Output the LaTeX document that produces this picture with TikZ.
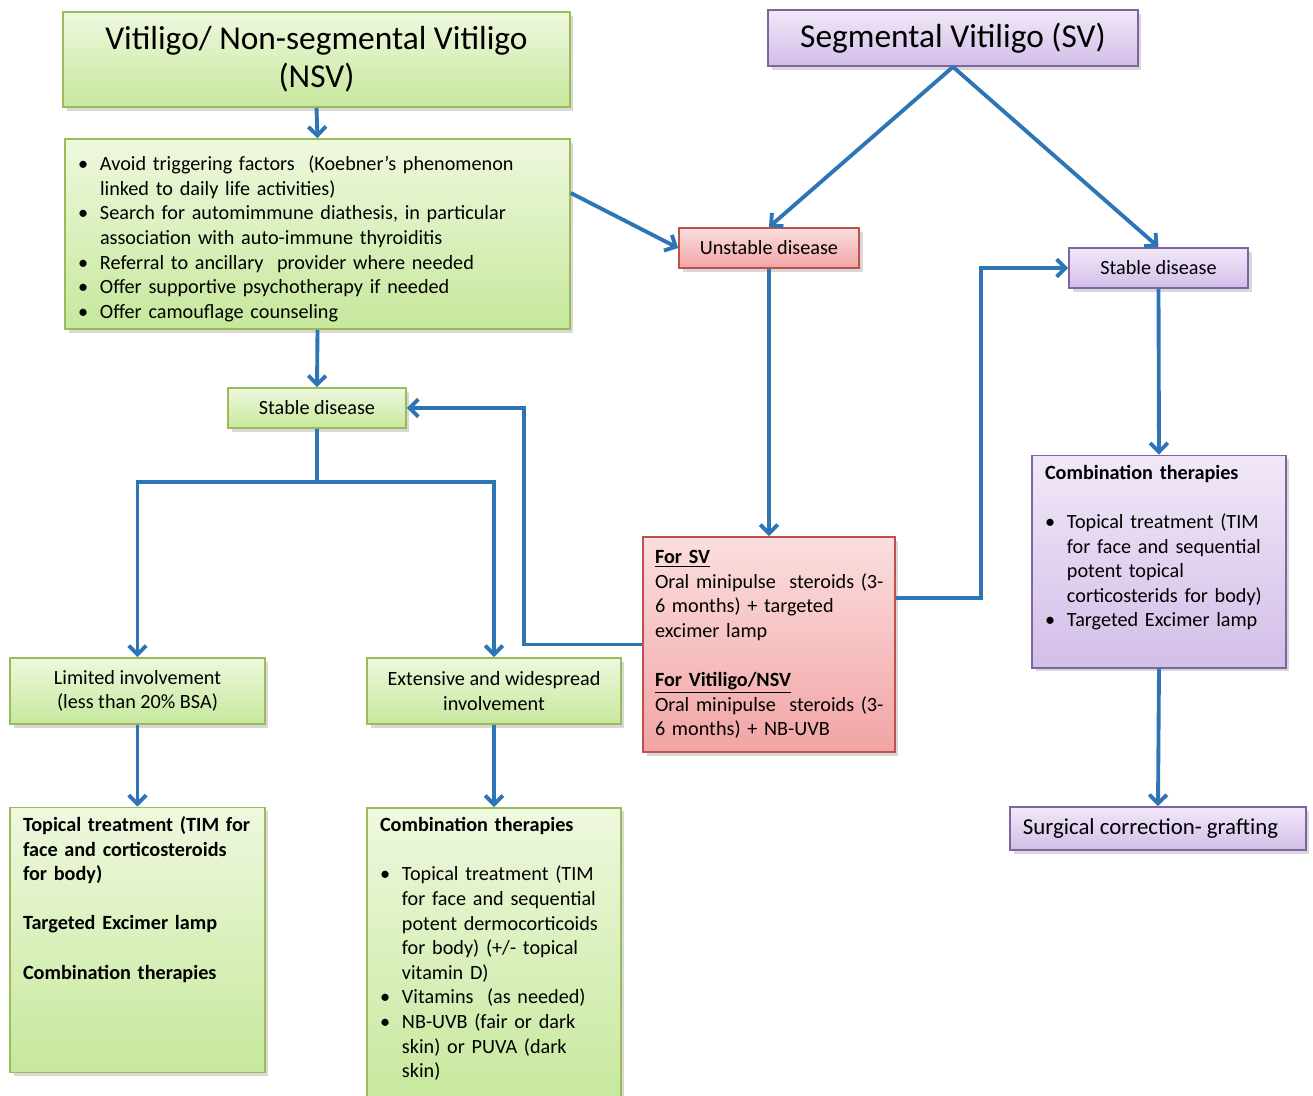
\documentclass[tikz,border=0pt]{standalone}
\usepackage{fontspec}
\setmainfont{Carlito}
\usepackage{tikz}
\usetikzlibrary {arrows.meta}
\usetikzlibrary {shadows}
\definecolor{flowblue}{HTML}{2E75B6}
\definecolor{greenline}{HTML}{9BBB59}
\definecolor{greentop}{HTML}{EEF8DE}
\definecolor{greenbot}{HTML}{C6E89C}
\definecolor{purpleline}{HTML}{8064A2}
\definecolor{purpletop}{HTML}{F1E8F8}
\definecolor{purplebot}{HTML}{D2BEE8}
\definecolor{redline}{HTML}{C0504D}
\definecolor{redtop}{HTML}{FBDEDE}
\definecolor{redbot}{HTML}{F2A4A4}
\newcommand{\bul}{\par\noindent\hangindent=12.5pt\hangafter=1\makebox[12.5pt][l]{\textbullet}}

\begin{document}
\begin{tikzpicture}[x=0.02cm,y=-0.02cm,
    box/.style={draw,line width=1pt,inner sep=0pt,align=center,
      font=\fontsize{11.5}{14}\selectfont,
      drop shadow={opacity=0.3,shadow xshift=2pt,shadow yshift=-2pt}},
    greenbox/.style={box,draw=greenline,top color=greentop,bottom color=greenbot},
    purplebox/.style={box,draw=purpleline,top color=purpletop,bottom color=purplebot},
    pinkbox/.style={box,draw=redline,top color=redtop,bottom color=redbot},
    titletext/.style={font=\fontsize{19}{21.5}\selectfont},
    lefttext/.style={align=left,inner xsep=0.26cm,inner ysep=0pt},
    link/.style={draw=flowblue,line width=2.2pt,-{Straight Barb[length=5pt,width=10pt]}}]
  \useasboundingbox (0,0) rectangle (1313,1096);
  \fill[white] (0,0) rectangle (1313,1096);

  % left column: NSV
  \node[greenbox,titletext,minimum width=10.14cm,minimum height=1.9cm] (nsv) at (316.5,59.5)
    {Vitiligo/ Non-segmental Vitiligo\\(NSV)};
  \node[greenbox,lefttext,text width=9.58cm,minimum height=3.8cm] (nsvcare) at (317.5,234)
    {\bul Avoid triggering factors\ \ (Koebner’s phenomenon\newline linked to daily life activities)
     \bul Search for automimmune diathesis, in particular\newline association with auto-immune thyroiditis
     \bul Referral to ancillary\ \ provider where needed
     \bul Offer supportive psychotherapy if needed
     \bul Offer camouflage counseling\par};
  \node[greenbox,minimum width=3.56cm,minimum height=0.8cm] (stableL) at (317,408) {Stable disease};
  \node[greenbox,minimum width=5.1cm,minimum height=1.32cm] (limited) at (137.5,691)
    {Limited involvement\\(less than 20\% BSA)};
  \node[greenbox,minimum width=5.08cm,minimum height=1.32cm] (extensive) at (494,691)
    {Extensive and widespread\\involvement};
  \node[greenbox,lefttext,text width=4.58cm,text height=13.6pt,text depth=137.2pt] (topical) at (137.5,940)
    {\textbf{Topical treatment (TIM for\\face and corticosteroids\\for body)}\\[14pt]
     \textbf{Targeted Excimer lamp}\\[14pt]
     \textbf{Combination therapies}};
  \node[greenbox,lefttext,text width=4.56cm,text height=13.6pt,text depth=154.8pt,anchor=north] (combiM) at (494,807)
    {\textbf{Combination therapies}\\[14pt]
     \bul Topical treatment (TIM\newline for face and sequential\newline potent dermocorticoids\newline for body) (+/- topical\newline vitamin D)
     \bul Vitamins\ \ (as needed)
     \bul NB-UVB (fair or dark\newline skin) or PUVA (dark\newline skin)\par};

  % middle and right: SV
  \node[purplebox,titletext,minimum width=7.4cm,minimum height=1.12cm] (sv) at (953,38) {Segmental Vitiligo (SV)};
  \node[pinkbox,minimum width=3.6cm,minimum height=0.8cm] (unstable) at (769,248) {Unstable disease};
  \node[purplebox,minimum width=3.58cm,minimum height=0.8cm] (stableR) at (1158.5,268) {Stable disease};
  \node[pinkbox,lefttext,inner xsep=0.24cm,text width=4.56cm,minimum height=4.3cm] (minipulse) at (769,644.5)
    {\underline{\textbf{For SV}}\\\mbox{Oral minipulse\ \ steroids (3-}\\\mbox{6 months) + targeted}\\excimer lamp\\[14pt]
     \underline{\textbf{For Vitiligo/NSV}}\\\mbox{Oral minipulse\ \ steroids (3-}\\\mbox{6 months) + NB-UVB}};
  \node[purplebox,lefttext,text width=4.56cm,text height=13.6pt,text depth=107.2pt] (combiR) at (1159,561.5)
    {\textbf{Combination therapies}\\[14pt]
     \bul Topical treatment (TIM\newline for face and sequential\newline potent topical\newline corticosterids for body)
     \bul Targeted Excimer lamp\par};
  \node[purplebox,font=\fontsize{13}{15}\selectfont,minimum width=5.92cm,minimum height=0.86cm] (surgery) at (1158,828.5)
    {Surgical correction- grafting\hspace{0.3cm}};

  % connectors
  \draw[link] (nsv.south) -- (nsvcare.north);
  \draw[link] (nsvcare.south) -- (stableL.north);
  \draw[link] ([yshift=0.82cm]nsvcare.east) -- (unstable.west);
  \draw[link] (sv.south) -- (unstable.north);
  \draw[link] (sv.south) -- (stableR.north);
  \draw[link] (unstable.south) -- (minipulse.north);
  \draw[link] ([yshift=0.93cm]minipulse.east) -- ++(85,0) |- (stableR.west);
  \draw[link] (minipulse.west) -- ++(-118,0) |- (stableL.east);
  \coordinate (fork) at (317,482);%分岐
  \draw[link] (stableL.south) -- (fork) -| (limited.north);
  \draw[link] (fork) -| (extensive.north);
  \draw[link] (limited.south) -- (topical.north);
  \draw[link] (extensive.south) -- (combiM.north);
  \draw[link] (stableR.south) -- (combiR.north);
  \draw[link] (combiR.south) -- (surgery.north);
\end{tikzpicture}
\end{document}
